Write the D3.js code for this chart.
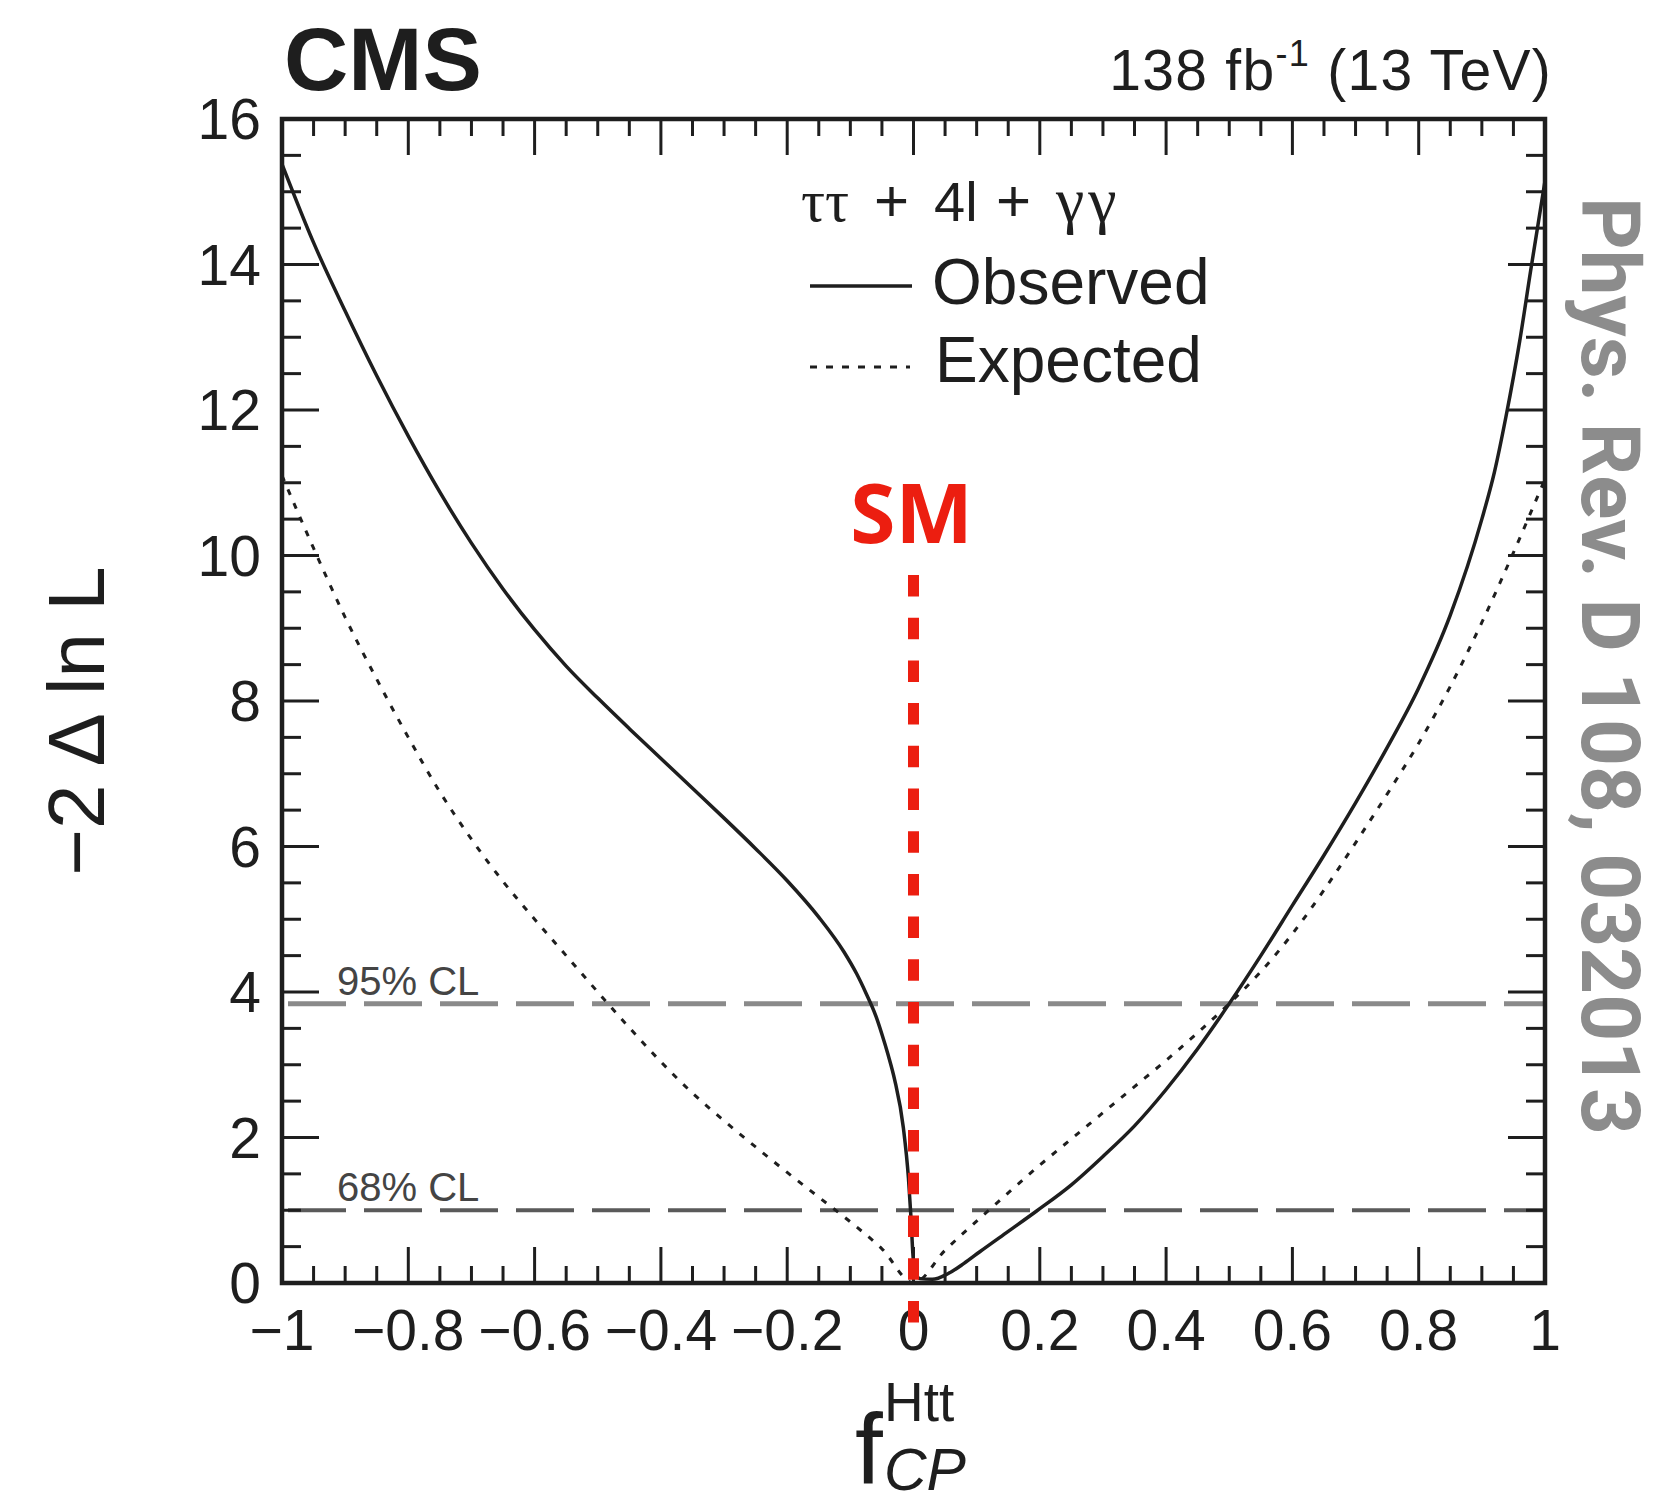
<!DOCTYPE html>
<html><head><meta charset="utf-8">
<script src="https://cdn.jsdelivr.net/npm/d3@7"></script>
<style>body{margin:0;background:#fff}</style>
</head><body>
<svg id="chart" width="1663" height="1504"></svg>
<script>
// ---- data ----
const obsF = [-1, -0.95, -0.9, -0.85, -0.8, -0.75, -0.7, -0.65, -0.6, -0.55, -0.5, -0.45, -0.4, -0.35, -0.3, -0.25, -0.2, -0.15, -0.11, -0.09, -0.075, -0.06, -0.05, -0.04, -0.03, -0.016, -0.008, -0.004, 0, 0.01, 0.03, 0.055, 0.08, 0.105, 0.15, 0.195, 0.25, 0.3, 0.35, 0.4, 0.45, 0.5, 0.55, 0.6, 0.65, 0.7, 0.75, 0.8, 0.85, 0.9, 0.92, 0.938, 0.96, 0.977, 1.0];
const obsV = [15.38, 14.3, 13.36, 12.47, 11.64, 10.87, 10.17, 9.54, 8.98, 8.48, 8.04, 7.62, 7.21, 6.80, 6.39, 5.97, 5.53, 5.03, 4.55, 4.25, 3.98, 3.68, 3.42, 3.13, 2.80, 2.13, 1.44, 0.9, 0.3, 0.06, 0.05, 0.13, 0.27, 0.43, 0.71, 0.99, 1.35, 1.74, 2.16, 2.66, 3.22, 3.84, 4.50, 5.19, 5.88, 6.60, 7.36, 8.18, 9.18, 10.5, 11.15, 11.9, 12.95, 13.9, 15.15];
const expF = [-1, -0.95, -0.9, -0.85, -0.8, -0.75, -0.7, -0.65, -0.6, -0.55, -0.5, -0.45, -0.4, -0.35, -0.3, -0.25, -0.2, -0.15, -0.1, -0.05, 0, 0.05, 0.1, 0.15, 0.2, 0.25, 0.3, 0.35, 0.4, 0.45, 0.5, 0.55, 0.6, 0.65, 0.7, 0.75, 0.8, 0.85, 0.9, 0.95, 1.0];
const expV = [11.1, 10.1, 9.15, 8.3, 7.5, 6.75, 6.1, 5.52, 5.0, 4.5, 4.0, 3.51, 3.04, 2.61, 2.23, 1.87, 1.52, 1.18, 0.84, 0.47, 0.0, 0.45, 0.85, 1.24, 1.62, 1.98, 2.34, 2.70, 3.06, 3.44, 3.84, 4.28, 4.80, 5.40, 6.05, 6.72, 7.42, 8.2, 9.08, 10.04, 11.05];
const xTickValues = [-1, -0.8, -0.6, -0.4, -0.2, 0, 0.2, 0.4, 0.6, 0.8, 1];
const xTickLabels = ["\u22121", "\u22120.8", "\u22120.6", "\u22120.4", "\u22120.2", "0", "0.2", "0.4", "0.6", "0.8", "1"];
const yTickValues = [0, 2, 4, 6, 8, 10, 12, 14, 16];
const yTickLabels = ["0", "2", "4", "6", "8", "10", "12", "14", "16"];
const clLevels = [1.0, 3.84];
const clLabels = ["68% CL", "95% CL"];
const smValue = 0;

// ---- layout ----
const svg = d3.select("#chart");
const L = 282, R = 1545, T = 119, B = 1283;
const x = d3.scaleLinear().domain([-1, 1]).range([L, R]);
const y = d3.scaleLinear().domain([0, 16]).range([B, T]);
const SANS = "'Liberation Sans', Arial, Helvetica, sans-serif";
const SERIF = "'Liberation Serif', 'DejaVu Serif', serif";
const INK = "#1e1e1e";

svg.append("rect").attr("width", 1663).attr("height", 1504).attr("fill", "#fff");

svg.append("defs").append("clipPath").attr("id", "plotclip")
  .append("rect").attr("x", L).attr("y", T).attr("width", R - L).attr("height", B - T);

// CL lines
const clG = svg.append("g");
clLevels.forEach((lv, i) => {
  clG.append("line")
    .attr("x1", L + 6).attr("x2", R).attr("y1", y(lv)).attr("y2", y(lv))
    .attr("stroke", i === 1 ? "#8a8a8a" : "#5a5a5a")
    .attr("stroke-width", i === 1 ? 5 : 4)
    .attr("stroke-dasharray", "58,18");
  clG.append("text")
    .attr("x", L + 55).attr("y", y(lv) - 9)
    .attr("font-family", SANS).attr("font-size", 40)
    .attr("fill", "#444").text(clLabels[i]);
});

// curves
const line = d3.line().x(d => x(d[0])).y(d => y(d[1])).curve(d3.curveMonotoneX);
const cg = svg.append("g").attr("clip-path", "url(#plotclip)");
cg.append("path").datum(expF.map((f, i) => [f, expV[i]]))
  .attr("d", line).attr("fill", "none").attr("stroke", INK)
  .attr("stroke-width", 3).attr("stroke-dasharray", "6,9");
cg.append("path").datum(obsF.map((f, i) => [f, obsV[i]]))
  .attr("d", line).attr("fill", "none").attr("stroke", INK)
  .attr("stroke-width", 3.5);

// axes (ROOT-style: ticks inside, mirrored)
const xMinor = d3.range(-1, 1.0001, 0.05).map(v => +v.toFixed(3));
const yMinor = d3.range(0, 16.0001, 0.5);
const ax = svg.append("g").attr("stroke", INK);
xMinor.forEach(v => {
  const major = xTickValues.some(t => Math.abs(t - v) < 1e-6);
  const len = major ? 36 : 17;
  ax.append("line").attr("x1", x(v)).attr("x2", x(v)).attr("y1", B).attr("y2", B - len).attr("stroke-width", 3);
  ax.append("line").attr("x1", x(v)).attr("x2", x(v)).attr("y1", T).attr("y2", T + len).attr("stroke-width", 3);
});
yMinor.forEach(v => {
  const major = yTickValues.some(t => Math.abs(t - v) < 1e-6);
  const len = major ? 37 : 19;
  ax.append("line").attr("y1", y(v)).attr("y2", y(v)).attr("x1", L).attr("x2", L + len).attr("stroke-width", 3);
  ax.append("line").attr("y1", y(v)).attr("y2", y(v)).attr("x1", R).attr("x2", R - len).attr("stroke-width", 3);
});
svg.append("rect").attr("x", L).attr("y", T).attr("width", R - L).attr("height", B - T)
  .attr("fill", "none").attr("stroke", INK).attr("stroke-width", 4.5);

// tick labels
xTickValues.forEach((v, i) => {
  svg.append("text").attr("x", x(v)).attr("y", 1350)
    .attr("text-anchor", "middle").attr("font-family", SANS).attr("font-size", 57)
    .attr("fill", INK).text(xTickLabels[i]);
});
yTickValues.forEach((v, i) => {
  svg.append("text").attr("x", 261).attr("y", y(v) + 20)
    .attr("text-anchor", "end").attr("font-family", SANS).attr("font-size", 57)
    .attr("fill", INK).text(yTickLabels[i]);
});

// axis titles
svg.append("text")
  .attr("transform", "translate(104,721) rotate(-90)")
  .attr("text-anchor", "middle").attr("font-family", SANS).attr("font-size", 80)
  .attr("fill", INK).text("\u22122 \u0394 ln L");

const xt = svg.append("g").attr("font-family", SANS).attr("fill", INK);
xt.append("text").attr("x", 855).attr("y", 1484).attr("font-size", 100).text("f");
xt.append("text").attr("x", 884).attr("y", 1421).attr("font-size", 55).text("Htt");
xt.append("text").attr("x", 884).attr("y", 1490).attr("font-size", 59).attr("font-style", "italic").text("CP");

// header texts
svg.append("text").attr("x", 284).attr("y", 90)
  .attr("font-family", SANS).attr("font-weight", "bold").attr("font-size", 89)
  .attr("fill", INK).text("CMS");
const lumi = svg.append("text").attr("x", 1552).attr("y", 90).attr("text-anchor", "end")
  .attr("font-family", SANS).attr("font-size", 57).attr("letter-spacing", 1.3).attr("fill", INK);
lumi.append("tspan").text("138 fb");
lumi.append("tspan").attr("dy", -24).attr("font-size", 36).text("-1");
lumi.append("tspan").attr("dy", 24).text(" (13 TeV)");

// legend
const lg = svg.append("g").attr("fill", INK);
const hdr = lg.append("text").attr("y", 221);
hdr.append("tspan").attr("x", 801).attr("font-family", SERIF).attr("font-size", 60).text("\u03c4\u03c4");
hdr.append("tspan").attr("x", 874).attr("font-family", SANS).attr("font-size", 60).text("+");
hdr.append("tspan").attr("x", 934).attr("font-family", SANS).attr("font-size", 56).text("4l");
hdr.append("tspan").attr("x", 996).attr("font-family", SANS).attr("font-size", 60).text("+");
hdr.append("tspan").attr("x", 1056).attr("font-family", SERIF).attr("font-size", 64).attr("letter-spacing", 4).text("\u03b3\u03b3");

lg.append("line").attr("x1", 810).attr("x2", 912).attr("y1", 286).attr("y2", 286)
  .attr("stroke", INK).attr("stroke-width", 3.5);
lg.append("text").attr("x", 932).attr("y", 304).attr("font-family", SANS).attr("font-size", 64).text("Observed");
lg.append("line").attr("x1", 810).attr("x2", 910).attr("y1", 367).attr("y2", 367)
  .attr("stroke", INK).attr("stroke-width", 3).attr("stroke-dasharray", "7,9");
lg.append("text").attr("x", 935).attr("y", 382).attr("font-family", SANS).attr("font-size", 64).text("Expected");

// SM marker
const RED = "#ec1e10";
svg.append("line").attr("x1", x(smValue)).attr("x2", x(smValue)).attr("y1", 575).attr("y2", 1323)
  .attr("stroke", RED).attr("stroke-width", 11).attr("stroke-dasharray", "21.5,21.2");
svg.append("text").attr("x", x(smValue) - 2).attr("y", 543).attr("text-anchor", "middle")
  .attr("font-family", "'Open Sans', 'Noto Sans', sans-serif").attr("font-weight", "bold")
  .attr("font-size", 82).attr("fill", RED).text("SM");

// journal reference
svg.append("text")
  .attr("transform", "translate(1582,197) rotate(90)")
  .attr("font-family", "Roboto, 'Open Sans', sans-serif").attr("font-weight", "bold")
  .attr("font-size", 81).attr("fill", "#8c8c8c")
  .attr("textLength", 938).attr("lengthAdjust", "spacingAndGlyphs")
  .text("Phys. Rev. D 108, 032013");
</script>
</body></html>
